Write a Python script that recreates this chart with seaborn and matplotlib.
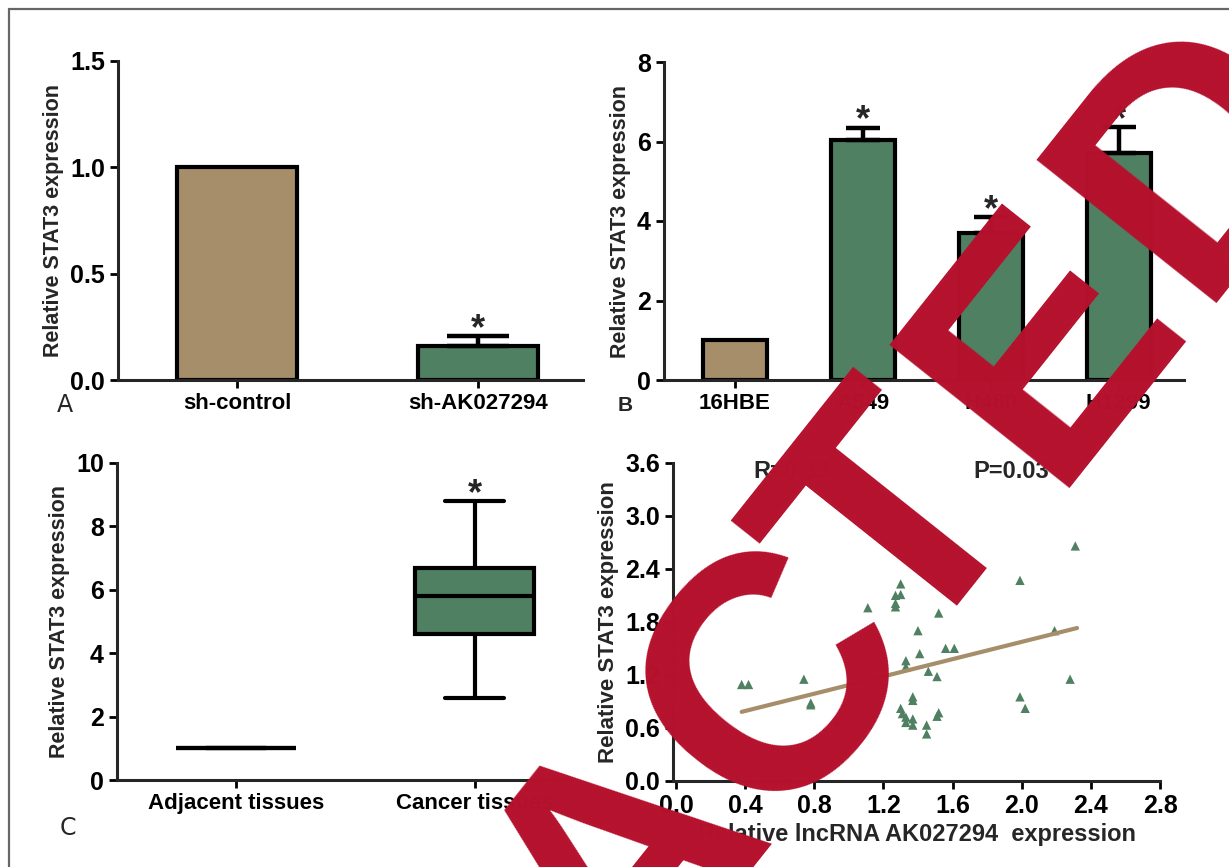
import numpy as np
import pandas as pd
import matplotlib
matplotlib.use("Agg")
import matplotlib.pyplot as plt
from matplotlib.lines import Line2D
import seaborn as sns

# Panel A - knockdown
a_groups = ["sh-control", "sh-AK027294"]
a_values = [1.0, 0.16]
a_errors = [0.0, 0.045]

# Panel B - cell lines
b_groups = ["16HBE", "A549", "H460", "H1299"]
b_values = [1.0, 6.05, 3.71, 5.70]
b_errors = [0.0, 0.30, 0.38, 0.66]

# Panel C - tissues (min, Q1, median, Q3, max)
c_adjacent = [1.0, 1.0, 1.0, 1.0, 1.0]
c_cancer = [2.6, 4.6, 5.8, 6.7, 8.8]

# Panel D - correlation
lnc_x = [0.38, 0.42, 0.74, 0.78, 0.78, 0.93, 1.11, 1.30, 1.27, 1.30, 1.27, 1.27,
         1.52, 1.40, 1.41, 1.56, 1.61, 1.33, 1.33, 1.46, 1.51, 1.37, 1.37, 1.30,
         1.31, 1.33, 1.33, 1.37, 1.37, 1.45, 1.45, 1.51, 1.52, 1.99, 2.19, 2.28,
         1.99, 2.02, 2.31]
stat3_y = [1.09, 1.09, 1.15, 0.88, 0.86, 0.66, 1.96, 2.23, 2.10, 2.11, 2.01, 1.97,
           1.90, 1.70, 1.44, 1.50, 1.50, 1.36, 1.29, 1.24, 1.18, 0.95, 0.91, 0.82,
           0.76, 0.72, 0.66, 0.70, 0.63, 0.63, 0.53, 0.73, 0.77, 2.27, 1.70, 1.15,
           0.95, 0.82, 2.66]
fit_x = [0.38, 2.32]
fit_y = [0.78, 1.73]

TAN = "#A58E69"
GREEN = "#4F8062"
RED = "#B5112D"

sns.set_style("ticks")
plt.rcParams["font.family"] = ["Liberation Sans", "DejaVu Sans"]
plt.rcParams["font.weight"] = "bold"
plt.rcParams["axes.linewidth"] = 2.2
plt.rcParams["xtick.major.width"] = 2.0
plt.rcParams["ytick.major.width"] = 2.0
plt.rcParams["xtick.major.size"] = 6
plt.rcParams["ytick.major.size"] = 6
plt.rcParams["xtick.direction"] = "out"
plt.rcParams["ytick.direction"] = "out"

W, H = 1229, 867
fig = plt.figure(figsize=(W / 100, H / 100), dpi=100)


def box(l, t, r, b):
    return [l / W, 1 - b / H, (r - l) / W, (b - t) / H]


def style(ax, xfs=16, yfs=18):
    sns.despine(ax=ax)
    ax.tick_params(axis="x", labelsize=xfs, colors="black")
    ax.tick_params(axis="y", labelsize=yfs, colors="black")
    for lab in ax.get_xticklabels() + ax.get_yticklabels():
        lab.set_fontweight("bold")
    ax.set_xlabel("")


def star(ax, x, y):
    ax.annotate("*", xy=(x, y), xytext=(0, -2), textcoords="offset points",
                ha="center", va="baseline", fontsize=26, fontweight="bold")


def bars(ax, groups, values, errors, colors, cap):
    sns.barplot(x=groups, y=values, hue=groups, palette=colors, width=0.5,
                edgecolor="black", linewidth=3, saturation=1, legend=False, ax=ax)
    idx = [i for i, e in enumerate(errors) if e > 0]
    ax.errorbar(idx, [values[i] for i in idx],
                yerr=[[0] * len(idx), [errors[i] for i in idx]],
                fmt="none", ecolor="black", elinewidth=3.2, capsize=cap, capthick=3.2,
                zorder=1)
    for i in idx:
        star(ax, i, values[i] + errors[i])


# A
axA = fig.add_axes(box(118, 61, 583, 380))
bars(axA, a_groups, a_values, a_errors, [TAN, GREEN], cap=22)
axA.set_xlim(-0.494, 1.436)
axA.set_ylim(0, 1.5)
axA.set_yticks([0, 0.5, 1.0, 1.5])
axA.set_yticklabels(["0.0", "0.5", "1.0", "1.5"])
axA.set_ylabel("Relative STAT3 expression", fontsize=15.5, fontweight="bold")
style(axA)

# B
axB = fig.add_axes(box(664, 62, 1184, 380))
bars(axB, b_groups, b_values, b_errors, [TAN, GREEN, GREEN, GREEN], cap=12.5)
axB.set_xlim(-0.555, 3.51)
axB.set_ylim(0, 8)
axB.set_yticks([0, 2, 4, 6, 8])
axB.set_ylabel("Relative STAT3 expression", fontsize=15.5, fontweight="bold")
style(axB)

# C
axC = fig.add_axes(box(117, 463, 570, 780))
tissue = pd.DataFrame({
    "group": ["Adjacent tissues"] * len(c_adjacent) + ["Cancer tissues"] * len(c_cancer),
    "value": c_adjacent + c_cancer,
})
sns.boxplot(data=tissue, x="group", y="value", hue="group",
            palette=["white", GREEN], whis=(0, 100), width=0.5, linewidth=3,
            linecolor="black", saturation=1, legend=False, ax=axC)
star(axC, 1, max(c_cancer))
axC.set_xlim(-0.499, 1.40)
axC.set_ylim(0, 10)
axC.set_yticks([0, 2, 4, 6, 8, 10])
axC.set_ylabel("Relative STAT3 expression", fontsize=15.5, fontweight="bold")
style(axC)

# D
axD = fig.add_axes(box(673, 463, 1160, 780.7))
sns.scatterplot(x=lnc_x, y=stat3_y, marker="^", color=GREEN, s=45,
                edgecolor="none", ax=axD)
sns.lineplot(x=fit_x, y=fit_y, color=TAN, linewidth=3, ax=axD)
axD.set_xlim(-0.017, 2.8)
axD.set_ylim(0, 3.6)
axD.set_xticks(np.arange(0, 2.81, 0.4))
axD.set_xticklabels([f"{v:.1f}" for v in np.arange(0, 2.81, 0.4)])
axD.set_yticks(np.arange(0, 3.61, 0.6))
axD.set_yticklabels([f"{v:.1f}" for v in np.arange(0, 3.61, 0.6)])
axD.set_ylabel("Relative STAT3 expression", fontsize=16, fontweight="bold")
style(axD, xfs=18, yfs=18)
axD.set_xlabel("Relative lncRNA AK027294  expression", fontsize=17, fontweight="bold")
axD.text(0.45, 3.5, "R=0.33", fontsize=17, fontweight="bold", va="center")
axD.text(1.72, 3.5, "P=0.03", fontsize=17, fontweight="bold", va="center")

# panel letters
fig.text(65 / W, 1 - 405 / H, "A", fontsize=17, ha="center", va="center",
         fontweight="normal", family="DejaVu Sans")
fig.text(625 / W, 1 - 405 / H, "B", fontsize=15, ha="center", va="center", fontweight="bold")
fig.text(68 / W, 1 - 828 / H, "C", fontsize=17, ha="center", va="center",
         fontweight="normal", family="DejaVu Sans")

# frame lines
fig.add_artist(Line2D([8.5 / W, 1], [1 - 8.5 / H, 1 - 8.5 / H], color="#666666", lw=1.6))
fig.add_artist(Line2D([8.5 / W, 8.5 / W], [0, 1 - 8.5 / H], color="#666666", lw=1.6))

# watermark, letters set one by one along a slanted baseline
word = "RETRACTED"
along = [-1150, -918, -705, -482, -240, 0, 195, 430, 675]   # px from the C
em, theta = 334, np.radians(51.5)
bx, by = np.cos(theta), -np.sin(theta)       # baseline direction (pixels, y down)
ux, uy = -np.sin(theta), -np.cos(theta)      # letter "up" direction
cx, cy = 766.5, 676.5                        # centre of the visible C
lift = 17 - 0.358 * em
for ch, s in zip(word, along):
    s = s + 4
    px = cx + s * bx + lift * ux
    py = cy + s * by + lift * uy
    fig.text(px / W, 1 - py / H, ch, rotation=np.degrees(theta), rotation_mode="anchor",
             ha="center", va="baseline", fontsize=em * 0.72, fontweight="bold",
             color=RED, zorder=10)

fig.savefig("out.png", dpi=100)
